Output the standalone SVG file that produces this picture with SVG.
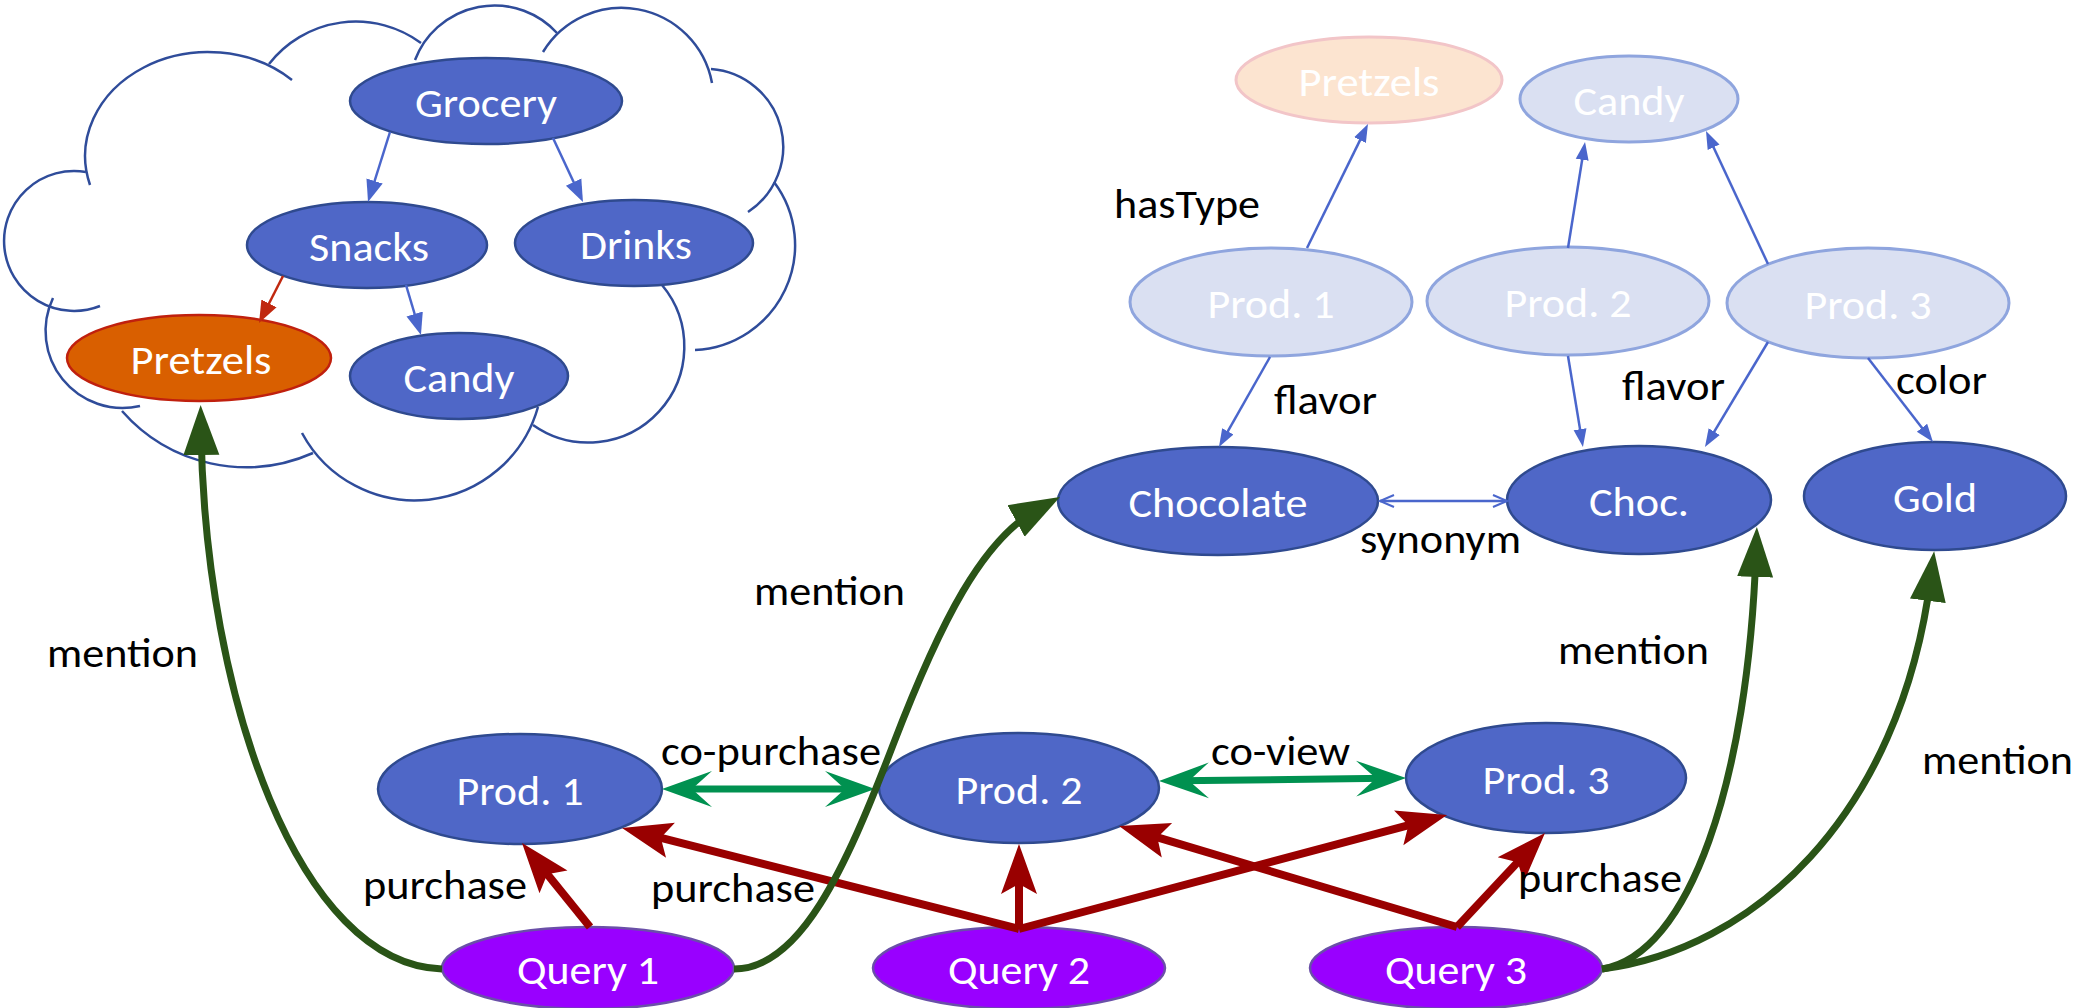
<svg xmlns="http://www.w3.org/2000/svg" width="2097" height="1008" viewBox="0 0 2097 1008">
<style>
text{font-family:Carlito,Calibri,Lato,"Liberation Sans",sans-serif;font-size:40px}
.nt{fill:#fff;text-anchor:middle}
.lb{fill:#000}
.cloud path{fill:none;stroke:#2F4C9A;stroke-width:2.5}
.n{fill:#4F67C7;stroke:#2F4A8F;stroke-width:2.5}
.q{fill:#9900FF;stroke:#6A4FA8;stroke-width:2.5}
.o{fill:#D95F00;stroke:#C0200E;stroke-width:2.5}
.fb{fill:#DAE0F2;stroke:#8FA5DE;stroke-width:3}
.fo{fill:#FCE4D0;stroke:#F2C5C8;stroke-width:3}
.bl{fill:none;stroke:#4A66CC;stroke-width:2.5}
.rd{fill:none;stroke:#990000;stroke-width:8}
.gd{fill:none;stroke:#2A5417;stroke-width:7}
.gc{fill:none;stroke:#009150;stroke-width:7}
</style>
<defs>
<marker id="mb" markerUnits="userSpaceOnUse" viewBox="0 -10 20 20" markerWidth="20" markerHeight="20" refX="9" refY="0" orient="auto"><path d="M0,-6.5 L18,0 L0,6.5 z" fill="#4A66CC"/></marker>
<marker id="mbb" markerUnits="userSpaceOnUse" viewBox="0 -10 24 20" markerWidth="24" markerHeight="20" refX="11" refY="0" orient="auto"><path d="M0,-8.5 L22,0 L0,8.5 z" fill="#4A66CC"/></marker>
<marker id="mo" markerUnits="userSpaceOnUse" viewBox="0 -10 24 20" markerWidth="24" markerHeight="20" refX="11" refY="0" orient="auto"><path d="M0,-8.5 L22,0 L0,8.5 z" fill="#C0280F"/></marker>
<marker id="ms" markerUnits="userSpaceOnUse" viewBox="-2 -8 18 16" markerWidth="18" markerHeight="16" refX="14" refY="0" orient="auto-start-reverse"><path d="M0,-6 L14,0 L0,6" fill="none" stroke="#4A66CC" stroke-width="2"/></marker>
<marker id="mr" markerUnits="userSpaceOnUse" viewBox="0 -20 52 40" markerWidth="52" markerHeight="40" refX="30" refY="0" orient="auto"><path d="M0,-18 L50,0 L0,18 L10,0 z" fill="#990000"/></marker>
<marker id="mg" markerUnits="userSpaceOnUse" viewBox="0 -20 52 40" markerWidth="52" markerHeight="40" refX="25" refY="0" orient="auto"><path d="M0,-18 L50,0 L0,18 z" fill="#2A5417"/></marker>
<marker id="mc" markerUnits="userSpaceOnUse" viewBox="0 -20 52 40" markerWidth="52" markerHeight="40" refX="30" refY="0" orient="auto-start-reverse"><path d="M0,-18 L50,0 L0,18 L20,0 z" fill="#009150"/></marker>
</defs>

<g id="cloud" class="cloud">
<path d="M90,185 A123,104 0 0 1 292,80"/>
<path d="M269,64 A110,110 0 0 1 421,43"/>
<path d="M415,60 A85,85 0 0 1 557,33"/>
<path d="M543,52 A92,92 0 0 1 712,83"/>
<path d="M711,69 A78,78 0 0 1 748,212"/>
<path d="M774,182 A105,105 0 0 1 695,350"/>
<path d="M662,285 A96,96 0 0 1 533,425"/>
<path d="M538,407 A128,128 0 0 1 302,433"/>
<path d="M313,453 A165,165 0 0 1 122,411"/>
<path d="M140,406 A77,77 0 0 1 53,298"/>
<path d="M100,306 A70,70 0 1 1 86,172"/>
</g>

<g id="node-grocery"><ellipse class="n" cx="486" cy="101" rx="136" ry="43"/><text class="nt" x="486" y="117" textLength="142" lengthAdjust="spacingAndGlyphs">Grocery</text></g>
<g id="node-snacks"><ellipse class="n" cx="367" cy="245" rx="120" ry="43"/><text class="nt" x="369" y="261" textLength="120" lengthAdjust="spacingAndGlyphs">Snacks</text></g>
<g id="node-drinks"><ellipse class="n" cx="634" cy="243" rx="119" ry="43"/><text class="nt" x="636" y="259" textLength="112" lengthAdjust="spacingAndGlyphs">Drinks</text></g>
<g id="node-pretzels"><ellipse class="o" cx="199" cy="358" rx="132" ry="43"/><text class="nt" x="201" y="374" textLength="141" lengthAdjust="spacingAndGlyphs">Pretzels</text></g>
<g id="node-candy"><ellipse class="n" cx="459" cy="376" rx="109" ry="43"/><text class="nt" x="459" y="392" textLength="111" lengthAdjust="spacingAndGlyphs">Candy</text></g>

<g id="node-pretzels-type"><ellipse class="fo" cx="1369" cy="80" rx="133" ry="43"/><text class="nt" x="1369" y="96" textLength="141" lengthAdjust="spacingAndGlyphs">Pretzels</text></g>
<g id="node-candy-type"><ellipse class="fb" cx="1629" cy="99" rx="109" ry="43"/><text class="nt" x="1629" y="115" textLength="111" lengthAdjust="spacingAndGlyphs">Candy</text></g>
<g id="node-kprod1"><ellipse class="fb" cx="1271" cy="302" rx="141" ry="54"/><text class="nt" x="1271" y="318" textLength="127" lengthAdjust="spacingAndGlyphs">Prod. 1</text></g>
<g id="node-kprod2"><ellipse class="fb" cx="1568" cy="301" rx="141" ry="54"/><text class="nt" x="1568" y="317" textLength="127" lengthAdjust="spacingAndGlyphs">Prod. 2</text></g>
<g id="node-kprod3"><ellipse class="fb" cx="1868" cy="303" rx="141" ry="55"/><text class="nt" x="1868" y="319" textLength="127" lengthAdjust="spacingAndGlyphs">Prod. 3</text></g>
<g id="node-chocolate"><ellipse class="n" cx="1218" cy="501" rx="160" ry="54"/><text class="nt" x="1218" y="517" textLength="179" lengthAdjust="spacingAndGlyphs">Chocolate</text></g>
<g id="node-choc"><ellipse class="n" cx="1639" cy="500" rx="132" ry="54"/><text class="nt" x="1639" y="516" textLength="100" lengthAdjust="spacingAndGlyphs">Choc.</text></g>
<g id="node-gold"><ellipse class="n" cx="1935" cy="496" rx="131" ry="54"/><text class="nt" x="1935" y="512" textLength="84" lengthAdjust="spacingAndGlyphs">Gold</text></g>

<g id="node-prod1"><ellipse class="n" cx="520" cy="789" rx="142" ry="55"/><text class="nt" x="520" y="805" textLength="127" lengthAdjust="spacingAndGlyphs">Prod. 1</text></g>
<g id="node-prod2"><ellipse class="n" cx="1019" cy="788" rx="140" ry="55"/><text class="nt" x="1019" y="804" textLength="127" lengthAdjust="spacingAndGlyphs">Prod. 2</text></g>
<g id="node-prod3"><ellipse class="n" cx="1546" cy="778" rx="140" ry="55"/><text class="nt" x="1546" y="794" textLength="127" lengthAdjust="spacingAndGlyphs">Prod. 3</text></g>
<g id="node-query1"><ellipse class="q" cx="588" cy="968" rx="146" ry="41"/><text class="nt" x="588" y="984" textLength="142" lengthAdjust="spacingAndGlyphs">Query 1</text></g>
<g id="node-query2"><ellipse class="q" cx="1019" cy="968" rx="146" ry="41"/><text class="nt" x="1019" y="984" textLength="142" lengthAdjust="spacingAndGlyphs">Query 2</text></g>
<g id="node-query3"><ellipse class="q" cx="1456" cy="968" rx="146" ry="41"/><text class="nt" x="1456" y="984" textLength="142" lengthAdjust="spacingAndGlyphs">Query 3</text></g>

<g id="connectors">
<path class="bl" d="M390,132 L371.3,191.5" marker-end="url(#mbb)"/>
<path class="bl" d="M553,138 L578.3,192" marker-end="url(#mbb)"/>
<path class="bl" d="M283,276 L264,313.2" style="stroke:#C0280F" marker-end="url(#mo)"/>
<path class="bl" d="M406,285 L417.8,324.5" marker-end="url(#mbb)"/>
<path class="bl" d="M1307,248 L1364,132.1" marker-end="url(#mb)"/>
<path class="bl" d="M1270,357 L1223.4,439.2" marker-end="url(#mb)"/>
<path class="bl" d="M1568,248 L1583.6,150.9" marker-end="url(#mb)"/>
<path class="bl" d="M1568,356 L1581.5,438.1" marker-end="url(#mb)"/>
<path class="bl" d="M1768,264 L1709.8,139.2" marker-end="url(#mb)"/>
<path class="bl" d="M1768,342 L1709.6,439.3" marker-end="url(#mb)"/>
<path class="bl" d="M1868,358 L1927.5,434.9" marker-end="url(#mb)"/>
<path class="bl" d="M1380,501 L1507,501" marker-start="url(#ms)" marker-end="url(#ms)"/>
<path class="gc" d="M682,789 L855,789" marker-start="url(#mc)" marker-end="url(#mc)"/>
<path class="gc" d="M1179,780.8 L1386,778.2" marker-start="url(#mc)" marker-end="url(#mc)"/>
<path class="rd" d="M590,927 L534.6,858.6" marker-end="url(#mr)"/>
<path class="rd" d="M1019,929 L641.4,832.9" marker-end="url(#mr)"/>
<path class="rd" d="M1019,929 L1019,864" marker-end="url(#mr)"/>
<path class="rd" d="M1019,929 L1427.7,820.1" marker-end="url(#mr)"/>
<path class="rd" d="M1457,927 L1138.2,831.7" marker-end="url(#mr)"/>
<path class="rd" d="M1457,927 L1531.3,847.6" marker-end="url(#mr)"/>
<path class="gd" d="M442,969 C300,965 205,700 201,430" marker-end="url(#mg)"/>
<path class="gd" d="M734,969 C800,969 845,870 893,745 C941,620 983,539 1038,509" marker-end="url(#mg)"/>
<path class="gd" d="M1602,969 C1690,955 1748,780 1756,552" marker-end="url(#mg)"/>
<path class="gd" d="M1602,969 C1750,950 1900,820 1931,576" marker-end="url(#mg)"/>
</g>

<g id="edge-labels" class="lb">
<text x="1114" y="218" textLength="146" lengthAdjust="spacingAndGlyphs">hasType</text>
<text x="1274" y="414" textLength="103" lengthAdjust="spacingAndGlyphs">flavor</text>
<text x="1622" y="400" textLength="103" lengthAdjust="spacingAndGlyphs">flavor</text>
<text x="1896" y="394" textLength="91" lengthAdjust="spacingAndGlyphs">color</text>
<text x="1360" y="553" textLength="161" lengthAdjust="spacingAndGlyphs">synonym</text>
<text x="661" y="765" textLength="220" lengthAdjust="spacingAndGlyphs">co-purchase</text>
<text x="1211" y="765" textLength="139" lengthAdjust="spacingAndGlyphs">co-view</text>
<text x="754" y="605" textLength="151" lengthAdjust="spacingAndGlyphs">mention</text>
<text x="47" y="667" textLength="151" lengthAdjust="spacingAndGlyphs">mention</text>
<text x="1558" y="664" textLength="151" lengthAdjust="spacingAndGlyphs">mention</text>
<text x="1922" y="774" textLength="151" lengthAdjust="spacingAndGlyphs">mention</text>
<text x="363" y="899" textLength="164" lengthAdjust="spacingAndGlyphs">purchase</text>
<text x="651" y="902" textLength="164" lengthAdjust="spacingAndGlyphs">purchase</text>
<text x="1518" y="892" textLength="164" lengthAdjust="spacingAndGlyphs">purchase</text>
</g>
</svg>
